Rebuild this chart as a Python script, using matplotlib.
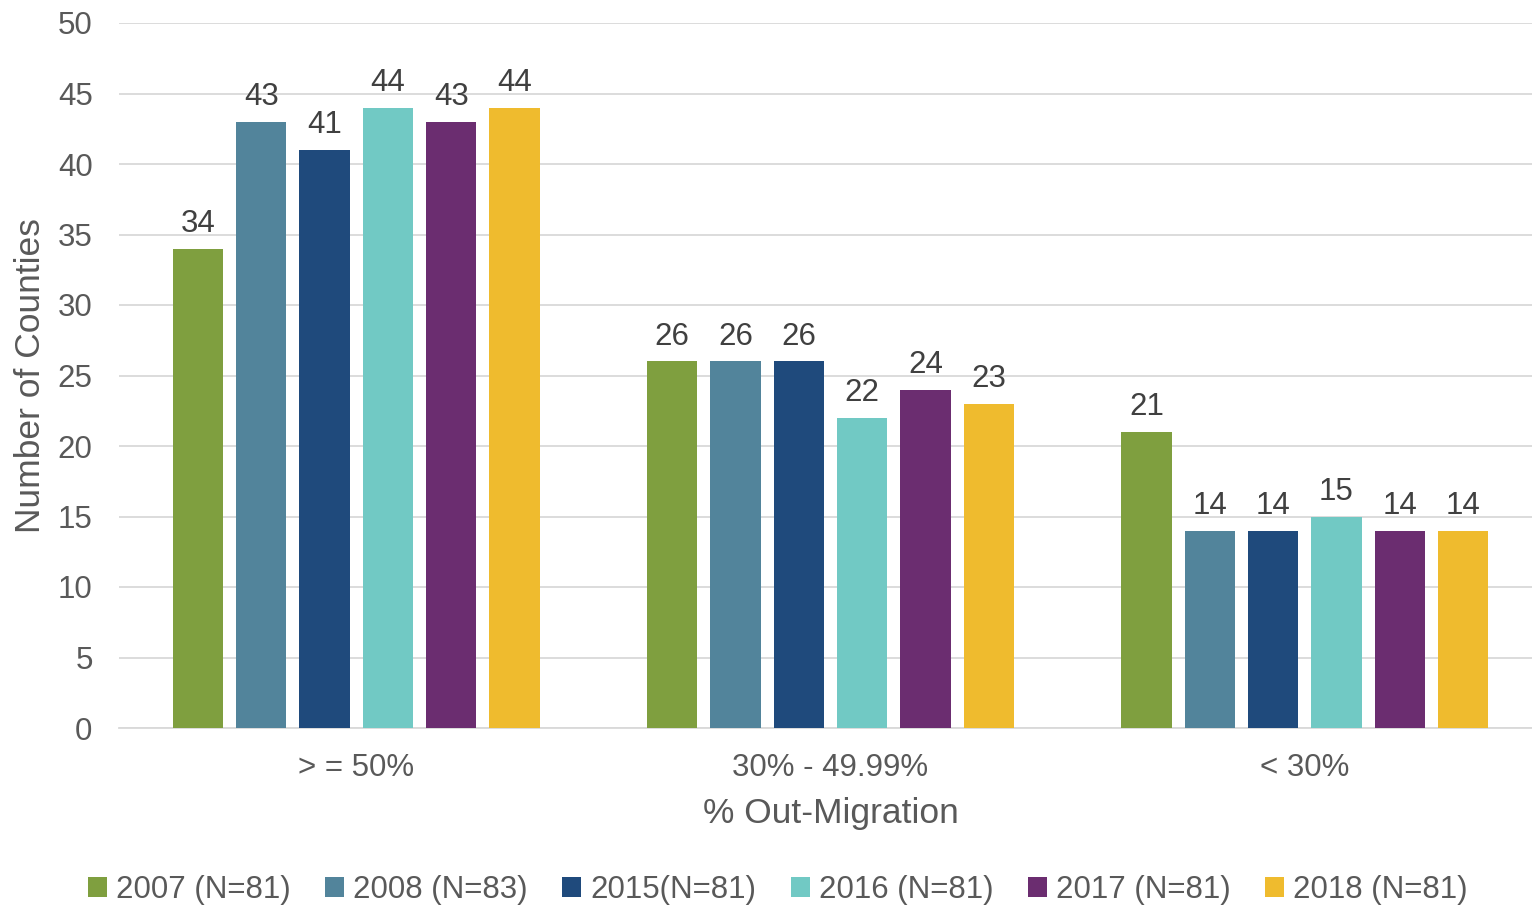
import numpy as np
import matplotlib.pyplot as plt

categories = ['> = 50%', '30% - 49.99%', '< 30%']
series_names = ['2007 (N=81)', '2008 (N=83)', '2015(N=81)', '2016 (N=81)', '2017 (N=81)', '2018 (N=81)']
values = [
    [34, 26, 21],
    [43, 26, 14],
    [41, 26, 14],
    [44, 22, 15],
    [43, 24, 14],
    [44, 23, 14],
]
colors = ['#7F9F3F', '#52849B', '#1F4A7C', '#71C9C4', '#6B2D70', '#EFBB2E']

plt.rcParams['font.family'] = ['Liberation Sans', 'DejaVu Sans']
text_color = '#595959'

fig = plt.figure(figsize=(15.32, 9.08), dpi=100)
ax = fig.add_axes([119 / 1532, 1 - 728 / 908, 1423 / 1532, 705 / 908])

x = np.arange(len(categories))
width = 0.106
step = 0.1335
for i, (name, vals, col) in enumerate(zip(series_names, values, colors)):
    offs = (i - 2.5) * step
    bars = ax.bar(x + offs, vals, width, color=col, label=name, zorder=3)
    ax.bar_label(bars, padding=7, fontsize=22.5, color='#404040')

ax.set_xlim(-0.5, 2.5)
ax.set_ylim(0, 50)
ax.set_yticks(range(0, 51, 5))
ax.set_xticks(x)
ax.set_xticklabels(categories)
ax.tick_params(axis='both', length=0, labelsize=22.5, colors=text_color)
ax.tick_params(axis='x', pad=18)
ax.tick_params(axis='y', pad=19)
ax.grid(axis='y', color='#D9D9D9', linewidth=1.3, zorder=0)
for s in ['top', 'right', 'left']:
    ax.spines[s].set_visible(False)
ax.spines['bottom'].set_color('#D9D9D9')
ax.spines['bottom'].set_linewidth(1.3)

ax.set_xlabel('% Out-Migration', fontsize=25.5, color=text_color, labelpad=10)
ax.set_ylabel('Number of Counties', fontsize=25.5, color=text_color, labelpad=8)

fig.legend(loc='center', bbox_to_anchor=(778 / 1532, 1 - 890 / 908), ncol=6,
           frameon=False, fontsize=22.5, labelcolor=text_color,
           handlelength=0.6, handleheight=0.6, handletextpad=0.3, columnspacing=1.1)

fig.savefig('out.png', dpi=100)
